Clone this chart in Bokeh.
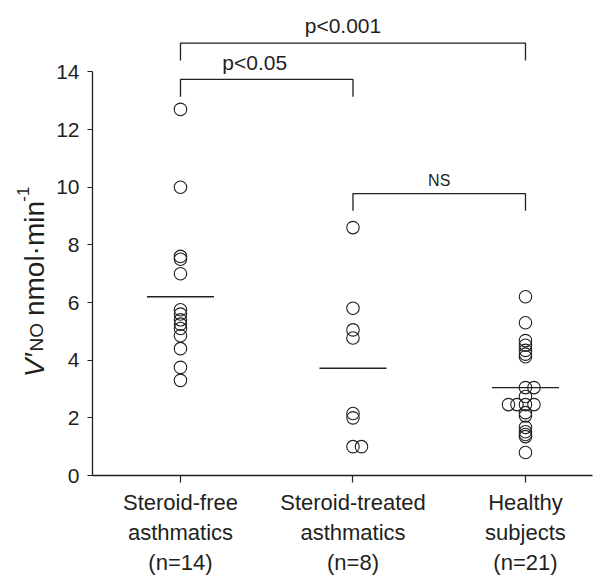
import math
from bokeh.plotting import figure
from bokeh.layouts import row
from bokeh.models import Range1d, FixedTicker, ColumnDataSource
from bokeh.embed import file_html
from bokeh.resources import INLINE
from bokeh.core.properties import value

# ---------------- data ----------------
category_labels = ["Steroid-free\nasthmatics\n(n=14)",
                   "Steroid-treated\nasthmatics\n(n=8)",
                   "Healthy\nsubjects\n(n=21)"]
category_pos = [1, 2, 3]

steroid_free = [12.7, 10.0, 7.6, 7.5, 7.0, 5.75, 5.6, 5.4, 5.25, 5.1, 4.85, 4.4, 3.75, 3.3]
steroid_treated = [8.6, 5.8, 5.05, 4.77, 2.15, 2.0, 1.0, 1.0]
healthy = [6.2, 5.3, 4.68, 4.52, 4.34, 4.21, 4.12, 3.05, 3.05, 2.74,
           2.46, 2.46, 2.46, 2.46, 2.18, 2.07, 1.67, 1.52, 1.42, 1.35, 0.8]
group_means = [6.2, 3.72, 3.05]

y_ticks = [0, 2, 4, 6, 8, 10, 12, 14]

comparisons = [(1, 3), (1, 2), (2, 3)]
comparison_labels = ["p<0.001", "p<0.05", "NS"]

y_label_parts = ["V\u2032", "NO", "nmol\u00b7min", "-1"]

# ---------------- style / layout ----------------
FONT = "Liberation Sans"
INK = "#231f20"
PX_PER_X = 172.5
DODGE = 8.5 / PX_PER_X
MEAN_HALF = 33.5 / PX_PER_X
bracket_heights = [15.0, 13.74, 9.78]
leg = 0.6
label_gap = [0.6, 0.6, 0.45]
label_sizes = ["21px", "21px", "16px"]
label_dx = [-10, -12, 0]

LEFT_W = 52
TOP, BOTTOM, FRAME_H = 8, 89, 480
y_range = Range1d(0, 16.2)

p = figure(width=609 - 52, height=TOP + FRAME_H + BOTTOM, output_backend="svg", toolbar_location=None,
           x_range=Range1d(0.49, 0.49 + 500 / PX_PER_X), y_range=y_range,
           min_border_left=92 - LEFT_W, min_border_right=609 - 52 - (92 - LEFT_W) - 500,
           min_border_top=TOP, min_border_bottom=BOTTOM)
p.outline_line_color = None
p.xgrid.visible = False
p.ygrid.visible = False

# points with horizontal dodge for identical values
xs, ys = [], []
for cx, vals in zip(category_pos, [steroid_free, steroid_treated, healthy]):
    counts = {}
    for v in vals:
        counts[v] = counts.get(v, 0) + 1
    seen = {}
    for v in vals:
        n = counts[v]
        k = seen.get(v, 0)
        seen[v] = k + 1
        start = -max(n - 2, 0)
        xs.append(cx + (k + start) * DODGE)
        ys.append(v)
src = ColumnDataSource(dict(x=xs, y=ys))
p.scatter("x", "y", source=src, marker="circle", size=12.5, fill_color=None,
          line_color=INK, line_width=1.1)

# mean lines
p.segment(x0=[c - MEAN_HALF for c in category_pos], x1=[c + MEAN_HALF for c in category_pos],
          y0=group_means, y1=group_means, line_color=INK, line_width=1.3)

# significance brackets
for (a, b), lab_txt, h, gap, fs, dx in zip(comparisons, comparison_labels, bracket_heights,
                                           label_gap, label_sizes, label_dx):
    p.line([a, a, b, b], [h - leg, h, h, h - leg], line_color=INK, line_width=1.3)
    p.text(x=[(a + b) / 2], y=[h + gap], text=[lab_txt], text_font=value(FONT),
           text_font_size=fs, text_align="center", text_baseline="alphabetic",
           text_color=INK, x_offset=dx)

# axes
p.yaxis.ticker = FixedTicker(ticks=y_ticks)
p.yaxis.bounds = (0, 14)
p.yaxis.minor_tick_line_color = None
p.yaxis.major_tick_in = 0
p.yaxis.major_tick_out = 5
p.yaxis.major_label_standoff = 8
p.yaxis.major_label_text_font_size = "21px"
p.xaxis.ticker = FixedTicker(ticks=category_pos)
p.xaxis.major_label_overrides = {c: l for c, l in zip(category_pos, category_labels)}
p.xaxis.minor_tick_line_color = None
p.xaxis.major_tick_in = 0
p.xaxis.major_tick_out = 7
p.xaxis.major_label_standoff = 7
p.xaxis.major_label_text_font_size = "22px"
for ax in (p.xaxis, p.yaxis):
    ax.axis_line_color = INK
    ax.axis_line_width = 1.3
    ax.major_tick_line_color = INK
    ax.major_tick_line_width = 1.2
    ax.major_label_text_font = FONT
    ax.major_label_text_color = INK

# y-axis label panel: V'NO nmol·min-1 (rotated, composed of pieces)
lab = figure(width=LEFT_W, height=TOP + FRAME_H + BOTTOM, output_backend="svg",
             toolbar_location=None, x_range=Range1d(0, LEFT_W), y_range=y_range,
             x_axis_type=None, y_axis_type=None,
             min_border_left=0, min_border_right=0,
             min_border_top=TOP, min_border_bottom=BOTTOM)
lab.outline_line_color = None
lab.xgrid.visible = False
lab.ygrid.visible = False
piece_x = [34, 36, 34, 22]
piece_y = [3.41, 4.30, 5.53, 9.5]
piece_size = ["28px", "19px", "28px", "17px"]
piece_style = ["italic", "normal", "normal", "normal"]
for txt, xx, yy, fs, st in zip(y_label_parts, piece_x, piece_y, piece_size, piece_style):
    lab.text(x=[xx], y=[yy], text=[txt], angle=math.pi / 2, text_font=value(FONT),
             text_font_size=fs, text_font_style=st, text_color=INK,
             text_align="left", text_baseline="alphabetic")

layout = row(lab, p, spacing=0)
open("out.html", "w").write(file_html(layout, INLINE))
